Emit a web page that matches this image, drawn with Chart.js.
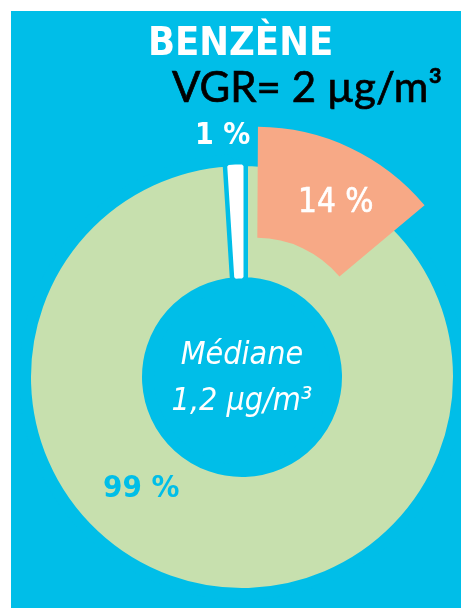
<!DOCTYPE html>
<html><head><meta charset="utf-8">
<script src="https://cdn.jsdelivr.net/npm/chart.js@4"></script>
<style>
html,body{margin:0;padding:0;background:#fff}
#wrap{position:relative;width:461px;height:608px;overflow:hidden}
#bg{position:absolute;left:11px;top:11px;right:0;bottom:0;background:#00BEE8}
canvas{position:absolute;left:0;top:0}
.t{position:absolute;white-space:nowrap;line-height:1;font-family:"DejaVu Sans Condensed","DejaVu Sans",sans-serif}
#title{left:148px;top:22px;font-size:39.5px;font-weight:bold;color:#fff}
#vgr{left:172px;top:65px;font-size:42px;font-family:Lato,sans-serif;color:#000;-webkit-text-stroke:0.7px #000}
#lblSmall{left:195px;top:119px;font-size:30px;font-weight:bold;color:#fff}
#lblHigh{left:298px;top:184px;font-size:33px;color:#fff;-webkit-text-stroke:0.6px #fff}
#lblMain{left:103px;top:471px;font-size:31px;font-weight:bold;color:#00BEE8}
.c{left:142px;width:200px;text-align:center;font-style:italic;font-size:32px;color:#fff}
#med1{top:337px}
#med2{top:383px}
</style></head><body>
<div id="wrap">
<div id="bg"></div>
<canvas id="ring" width="461" height="608"></canvas>
<canvas id="over" width="461" height="608"></canvas>
<div class="t" id="title">BENZÈNE</div>
<div class="t" id="vgr">VGR= 2 µg/m³</div>
<div class="t" id="lblSmall"></div>
<div class="t" id="lblHigh"></div>
<div class="t" id="lblMain"></div>
<div class="t c" id="med1">Médiane</div>
<div class="t c" id="med2">1,2 µg/m³</div>
</div>
<script>
// Data
const ringLabels = ['≤ VGR', '> VGR'];
const ringValues = [99, 1];          // %
const highlightLabel = 'Part mise en évidence';
const highlightValue = 14;           // %

const blue = '#00BEE8', green = '#C7E0AE', white = '#FFFFFF', salmon = '#F7A986';
const R = 211, r = 100, gap = 12;
const pad = {left: 23, right: 0, top: 146, bottom: 0};

const common = {
  responsive: false, animation: false, events: [],
  layout: {padding: pad},
  plugins: {legend: {display: false}, tooltip: {enabled: false}}
};

new Chart(document.getElementById('ring'), {
  type: 'doughnut',
  data: {labels: ringLabels, datasets: [{
    data: ringValues,
    backgroundColor: [green, 'rgba(0,0,0,0)'],
    borderColor: blue,
    borderWidth: [gap, 0],
    clip: false
  }]},
  options: Object.assign({}, common, {
    radius: R + gap / 2,
    cutout: ((r - gap / 2) / (R + gap / 2) * 100) + '%'
  })
});

const rest = 100 - highlightValue - ringValues[1];
new Chart(document.getElementById('over'), {
  type: 'doughnut',
  data: {labels: [highlightLabel, '', ringLabels[1]], datasets: [{
    data: [highlightValue, rest, ringValues[1]],
    backgroundColor: [salmon, 'rgba(0,0,0,0)', white],
    borderColor: [salmon, 'rgba(0,0,0,0)', white],
    borderWidth: [0, 0, 3],
    offset: [138, 0, 0],
    clip: false
  }]},
  options: Object.assign({}, common, {
    radius: R,
    cutout: (r / R * 100) + '%'
  })
});

document.getElementById('lblSmall').textContent = ringValues[1] + ' %';
document.getElementById('lblHigh').textContent = highlightValue + ' %';
document.getElementById('lblMain').textContent = ringValues[0] + ' %';
</script>
</body></html>
